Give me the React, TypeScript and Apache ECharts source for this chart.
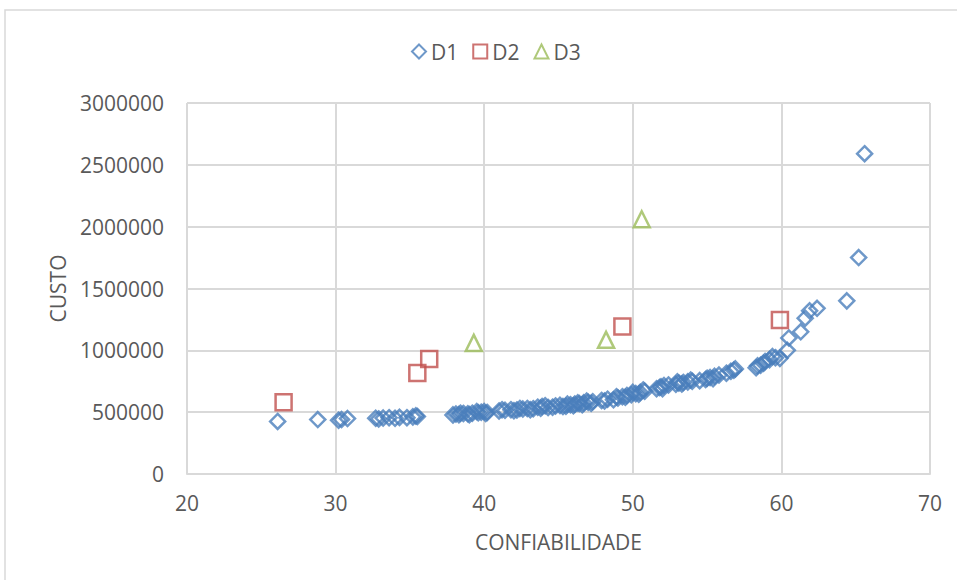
import React, { useEffect, useRef } from "react";
import * as echarts from "echarts";

const d1X = [26.1, 28.8, 30.2, 30.4, 30.8, 32.7, 32.9, 33.2, 33.6, 34.0, 34.3, 34.8, 35.2, 35.4, 35.5,
  37.9, 38.1, 38.3, 38.6, 38.9, 39.2, 39.6, 39.8, 40.0, 40.2, 41.0, 41.4, 41.8, 42.2, 42.6, 42.9,
  43.3, 43.6, 43.9, 44.3, 44.8, 45.1, 45.5, 45.8, 46.1, 46.4, 46.7, 47.0, 47.3, 47.9, 48.3, 48.7,
  49.0, 49.3, 49.6, 49.9, 50.2, 50.5, 50.8, 51.6, 51.9, 52.1, 52.4, 52.9, 53.1, 53.4, 53.7, 54.0,
  54.5, 54.9, 55.2, 55.5, 55.8, 56.3, 56.6, 56.9, 58.3, 58.6, 58.9, 59.2, 59.6, 59.9, 60.4, 60.5,
  61.3, 61.6, 61.9, 62.4, 64.4, 65.2, 65.6,
  38.4, 39.0, 39.5, 40.1, 41.2, 42.0, 42.4, 43.1, 43.8, 44.1, 44.6, 45.3, 45.6, 46.0, 46.3, 46.6,
  46.9, 47.2, 48.1, 48.9, 49.5, 50.0, 50.4, 50.7, 51.8, 52.0, 53.0, 53.3, 53.9, 55.0, 55.4, 56.8,
  58.4, 58.8, 59.4];
const d1Y = [425000, 440000, 435000, 440000, 448000, 450000, 445000, 452000, 455000, 450000, 458000, 455000, 462000, 470000, 465000,
  478000, 485000, 480000, 490000, 487000, 492000, 495000, 500000, 505000, 498000, 510000, 515000, 520000, 518000, 525000, 530000,
  528000, 540000, 545000, 538000, 550000, 555000, 548000, 560000, 565000, 570000, 575000, 580000, 585000, 595000, 605000, 600000,
  615000, 625000, 635000, 640000, 650000, 660000, 670000, 690000, 705000, 715000, 720000, 725000, 735000, 740000, 745000, 750000,
  755000, 765000, 780000, 790000, 800000, 815000, 830000, 850000, 860000, 880000, 910000, 925000, 940000, 935000, 1000000, 1100000,
  1150000, 1260000, 1320000, 1340000, 1400000, 1750000, 2590000,
  492000, 480000, 505000, 490000, 520000, 512000, 530000, 520000, 532000, 552000, 540000, 545000, 565000, 552000, 575000, 560000,
  590000, 572000, 590000, 625000, 620000, 660000, 645000, 680000, 700000, 690000, 745000, 728000, 760000, 775000, 770000, 840000,
  875000, 895000, 950000];
const d2X = [26.5, 35.5, 36.3, 49.3, 59.9];
const d2Y = [580000, 817000, 930000, 1192000, 1246000];
const d3X = [39.3, 48.2, 50.6];
const d3Y = [1060000, 1085000, 2060000];

const seriesNames = ["D1", "D2", "D3"];
const xAxisTitle = "CONFIABILIDADE";
const yAxisTitle = "CUSTO";

const zip = (xs: number[], ys: number[]) => xs.map((x, i) => [x, ys[i]]);

export default function App() {
  const ref = useRef<HTMLDivElement>(null);
  useEffect(() => {
    if (!ref.current) return;
    const chart = echarts.init(ref.current, undefined, { renderer: "svg" });
    const font = "'Open Sans', sans-serif";
    const gray = "#595959";
    const gridColor = "#D9D9D9";
    const mk = (name: string, data: number[][], symbol: string, size: number, color: string) => ({
      name,
      type: "scatter",
      data,
      symbol,
      symbolSize: size,
      itemStyle: { color: "rgba(255,255,255,0)", borderColor: color, borderWidth: 2.5 },
      emphasis: { disabled: true },
    });
    chart.setOption({
      animation: false,
      backgroundColor: "#fff",
      textStyle: { fontFamily: font },
      graphic: [
        {
          type: "rect",
          shape: { x: 5, y: 10, width: 960, height: 580 },
          style: { fill: "none", stroke: "#D9D9D9", lineWidth: 1.5 },
          silent: true,
        },
      ],
      legend: {
        top: 36,
        left: 406,
        itemWidth: 14,
        itemHeight: 14,
        itemGap: 14,
        textStyle: { fontSize: 21, color: gray, fontFamily: font },
        data: seriesNames,
      },
      grid: { left: 187, right: 27, top: 103, bottom: 106 },
      xAxis: {
        type: "value",
        min: 20,
        max: 70,
        interval: 10,
        name: xAxisTitle,
        nameLocation: "middle",
        nameGap: 57,
        nameTextStyle: { fontSize: 21, color: gray, fontFamily: font },
        axisLine: { show: true, lineStyle: { color: gridColor, width: 2 } },
        axisTick: { show: false },
        axisLabel: { fontSize: 21, color: gray, margin: 18, fontFamily: font },
        splitLine: { show: true, lineStyle: { color: gridColor, width: 2 } },
      },
      yAxis: {
        type: "value",
        min: 0,
        max: 3000000,
        interval: 500000,
        name: yAxisTitle,
        nameLocation: "middle",
        nameGap: 119,
        nameRotate: 90,
        nameTextStyle: { fontSize: 21, color: gray, fontFamily: font },
        axisLine: { show: false },
        axisTick: { show: false },
        axisLabel: { fontSize: 21, color: gray, margin: 23, fontFamily: font, formatter: (v: number) => String(v) },
        splitLine: { show: true, lineStyle: { color: gridColor, width: 2 } },
      },
      series: [
        mk(seriesNames[0], zip(d1X, d1Y), "diamond", 15, "#4A7EBB"),
        mk(seriesNames[1], zip(d2X, d2Y), "rect", 16, "#C0504D"),
        mk(seriesNames[2], zip(d3X, d3Y), "triangle", 16, "#9BBB59"),
      ],
    });
    return () => chart.dispose();
  }, []);
  return (
    <div
      ref={ref}
      style={{ position: "absolute", left: 0, top: 0, width: 957, height: 580 }}
    />
  );
}
